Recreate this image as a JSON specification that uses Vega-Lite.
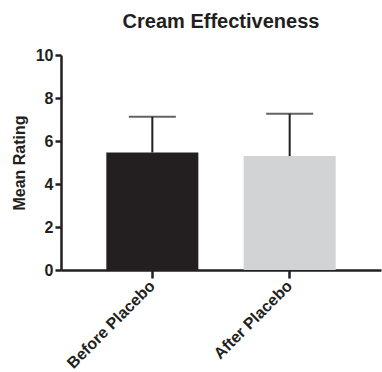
{
  "$schema": "https://vega.github.io/schema/vega-lite/v6.json",
  "width": 320,
  "height": 215,
  "autosize": {"type": "none"},
  "padding": {"left": 61, "top": 55, "right": 1, "bottom": 102},
  "title": {"text": "Cream Effectiveness", "font": "Liberation Sans", "fontSize": 20, "fontWeight": "bold", "color": "#231f20", "offset": 15, "anchor": "middle"},
  "data": {"values": [
    {"condition": "Before Placebo", "mean": 5.47, "upper": 7.13},
    {"condition": "After Placebo", "mean": 5.30, "upper": 7.27}
  ]},
  "encoding": {
    "x": {"field": "condition", "type": "nominal", "sort": null,
      "scale": {"paddingInner": 0.33, "paddingOuter": 0.33},
      "axis": {"title": null, "labelAngle": -45, "labelAlign": "right", "labelBaseline": "middle", "labelFont": "Liberation Sans", "labelFontSize": 16, "labelFontWeight": "bold", "labelColor": "#231f20", "tickSize": 8, "tickWidth": 2.5, "tickColor": "#231f20", "domainColor": "#231f20", "domainWidth": 2.5, "labelPadding": 5}}
  },
  "layer": [
    {"mark": {"type": "bar"},
     "encoding": {
       "y": {"field": "mean", "type": "quantitative", "scale": {"domain": [0, 10]},
         "axis": {"title": "Mean Rating", "values": [0, 2, 4, 6, 8, 10], "grid": false, "titleFont": "Liberation Sans", "titleFontSize": 16, "titleFontWeight": "bold", "titleColor": "#231f20", "titlePadding": 8, "labelFont": "Liberation Sans", "labelFontSize": 16, "labelFontWeight": "bold", "labelColor": "#231f20", "labelPadding": 2, "tickSize": 6, "tickWidth": 2.5, "tickColor": "#231f20", "domainColor": "#231f20", "domainWidth": 2.5}},
       "color": {"field": "condition", "type": "nominal", "legend": null,
         "scale": {"domain": ["Before Placebo", "After Placebo"], "range": ["#231f20", "#d1d3d4"]}}
     }},
    {"mark": {"type": "rule", "color": "#231f20", "strokeWidth": 2},
     "encoding": {"y": {"field": "mean", "type": "quantitative"}, "y2": {"field": "upper"}}},
    {"mark": {"type": "tick", "color": "#231f20", "thickness": 2, "size": 47, "orient": "horizontal"},
     "encoding": {"y": {"field": "upper", "type": "quantitative"}}}
  ],
  "config": {"view": {"stroke": null}}
}
